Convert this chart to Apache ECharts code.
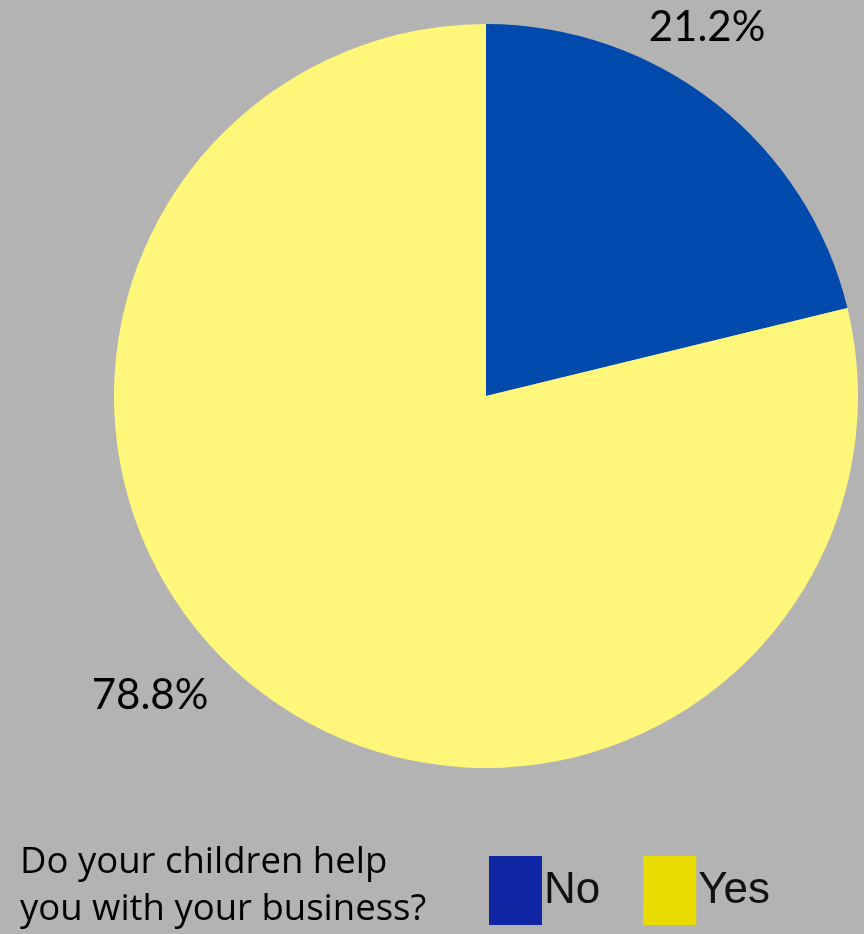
<!DOCTYPE html>
<html>
<head>
<meta charset="utf-8">
<script src="https://cdn.jsdelivr.net/npm/echarts@6/dist/echarts.min.js"></script>
<style>
  html, body { margin: 0; padding: 0; background: #b3b3b3; }
  #chart { width: 864px; height: 934px; }
</style>
</head>
<body>
<div id="chart"></div>
<script>
// Survey answers and their shares (percent)
const categories = ['No', 'Yes'];
const shares = [21.2, 78.8];
const sliceColors = ['#004aad', '#fff67a'];
const legendColors = ['#1027a5', '#e8dc00'];
const question = 'Do your children help\nyou with your business?';

// Where each percentage label sits on the canvas
const labelSpots = [[707, 27], [150, 695]];

const chart = echarts.init(document.getElementById('chart'));

chart.setOption({
  backgroundColor: '#b3b3b3',
  animation: false,
  legend: {
    left: 489,
    top: 856,
    padding: 0,
    orient: 'horizontal',
    itemWidth: 53,
    itemHeight: 69,
    itemGap: 43,
    icon: 'rect',
    selectedMode: false,
    data: categories.map((c, i) => ({ name: c, itemStyle: { color: legendColors[i] } })),
    textStyle: {
      fontFamily: '"Liberation Sans Narrow", "Liberation Sans", sans-serif',
      fontSize: 44,
      color: '#111',
      padding: [0, 0, 0, -3]
    }
  },
  graphic: [{
    type: 'text',
    left: 20,
    top: 839,
    style: {
      text: question,
      fontFamily: '"Open Sans", Lato, sans-serif',
      fontSize: 36.5,
      lineHeight: 47,
      fill: '#000'
    }
  }],
  series: [{
    type: 'pie',
    center: [486, 396],
    radius: [0, 372],
    startAngle: 90,
    clockwise: true,
    silent: true,
    data: categories.map((c, i) => ({
      name: c,
      value: shares[i],
      itemStyle: { color: sliceColors[i] }
    })),
    label: {
      show: true,
      position: 'outside',
      overflow: 'none',
      width: 200,
      formatter: p => p.value.toFixed(1) + '%',
      fontFamily: 'Lato, "Open Sans", sans-serif',
      fontSize: 42,
      color: '#000'
    },
    labelLine: { show: false },
    labelLayout: p => ({
      x: labelSpots[p.dataIndex][0],
      y: labelSpots[p.dataIndex][1],
      align: 'center',
      verticalAlign: 'middle'
    })
  }]
});
</script>
</body>
</html>
